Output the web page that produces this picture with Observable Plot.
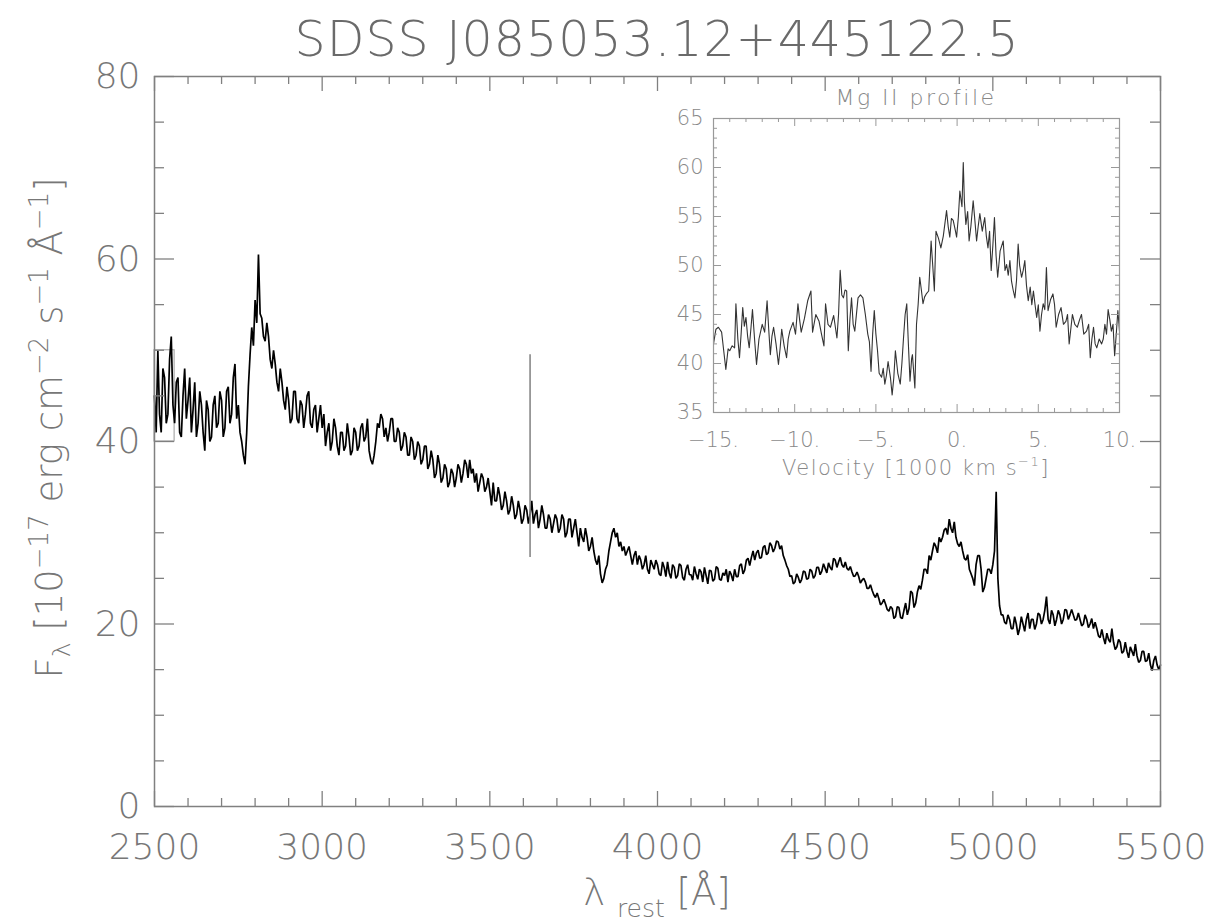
<!DOCTYPE html>
<html><head><meta charset="utf-8">
<script src="https://cdn.jsdelivr.net/npm/d3@7"></script>
<script src="https://cdn.jsdelivr.net/npm/@observablehq/plot@0.6"></script>
<style>
body{margin:0;background:#fff;}
#wrap{position:relative;width:1212px;height:924px;overflow:hidden;}
#main{position:absolute;left:0;top:0;}
#inset{position:absolute;left:600px;top:80px;}
</style></head>
<body><div id="wrap"><div id="main"></div><div id="inset"></div></div>
<script>
// ---------------- DATA ----------------
const titleText = "SDSS J085053.12+445122.5";
const insetTitle = "Mg II profile";
// main spectrum: rest wavelength grid 2500..5500 Å, step 5 Å (one row = 100 Å)
const lambdaStart = 2500, lambdaEnd = 5500, lambdaStep = 5;
const flux = [
 45,41,50,43,41,48,47,42,43,49,51.5,44,42,46.5,47,41,40.5,45,48,42.5,
 44.5,47,41,43.5,46.5,40.5,42,45.5,44,41,39,44.5,43.5,40,40.5,44,45,41.5,42,45.5,
 44.5,40.5,41.5,45.5,46,42,43,47,48.5,42.5,44,41,40,38.5,37.5,41,46,49.5,52.5,50.5,
 55.5,53,60.5,54,53.5,51.5,51,53,51.5,49,48,50,48.5,46.5,45.5,48,46.5,44.5,43.5,46,
 44.5,42,42.5,45.5,45.5,42.5,42,44.5,44,41.5,43,45,45.5,42,41.5,43.5,44,41,42.5,44,
 41.5,43,39.5,41,42,39,40,42.5,41.5,39.5,38.5,41,41,39,39.5,42,40.5,38.5,39,41.5,
 41,39,39.5,41.5,42,40,40.5,42.5,39,38,37.5,38.5,40,42,41.5,43,42.5,40.5,41.5,40,
 41,42.5,42.5,40,40,41.5,41,39,39.5,41,40.5,38.5,38.5,40.5,40,38,38.5,40,39.5,37.5,
 38,39.5,39.5,37,37.5,39,38,36,36.5,38.5,37.5,35.5,36,37.5,37,35,35.5,37,36.5,35,
 36,37.5,37,35.5,36.5,38,37.5,36,38,36.5,37,35.5,36.5,34.5,35.5,36.5,36,34.5,35,36,
 34.5,33,35.5,33.5,33.5,35,34,32.5,33,34.5,33.5,32,32.5,34,33,31.5,32,33.5,32.5,31,
 31.5,33,32.5,31,32,33.5,31,32,32.5,30.5,31.5,33,32,30.5,30.5,32,31.5,30,31,32,
 31.5,30,30.5,32,31.5,29.5,30,31.5,31.5,29.5,30.5,31.5,30,28.5,30.5,29.5,29,30.5,29.5,28,
 28.5,29.5,28,27,26.5,27.5,25.5,24.5,25,26,26.5,28,29,30,30.5,29.5,30,28.5,29,28,
 28.5,27.5,28,28.5,27.5,26.5,27.5,28,26.5,27.5,27,26,26.5,27.5,26,25.5,27,26.5,26,27,
 26.5,25.5,25.3,26.8,26.2,25.2,26.8,25.6,25,26.5,26.2,25,25.3,26.6,26.4,25.1,24.8,26,26.5,25.4,
 25.4,24.8,26.3,25.5,24.9,26,25.7,24.6,26.2,25.3,24.4,25.9,25.8,24.7,24.9,26.3,26.1,24.9,24.8,25.6,
 25.3,26,24.6,25.8,25.4,24.7,26,25.2,25.2,26.4,26.6,25.5,25.9,27,27.2,26.4,27.3,28,27,27.8,
 28.1,27.2,27.3,28.4,28.6,27.6,27.8,28.9,28.6,27.9,28.3,29.1,29,28.2,28.6,27.5,27,26.4,26,25.2,
 25.3,24.4,24.6,25.5,25.1,24.5,24.9,25.8,25.7,24.9,25,26,25.8,25,25.3,26.2,26.2,25.4,25.8,26.6,
 26.1,25.6,26.7,26.2,25.9,27.2,27,26.2,26.8,27.3,26.5,26.2,26.8,26.1,25.9,26.3,25.7,25.2,25.3,25.7,
 25.2,24.5,24.8,25,24.6,23.9,23.9,24.3,23.7,23.2,22.9,23.4,22.8,22.1,22.3,22.7,22.2,21.6,21.4,21.9,
 21.7,20.6,20.8,21.9,21.8,20.7,20.6,21.5,22.3,21,21.7,23.6,23.4,21.8,22.3,23.5,24.2,23.8,24.8,26,
 26,25.5,27.5,27,28,28.9,28.5,27.8,29.5,29,29.5,30.3,30.5,29.8,31.5,30.5,30,31.2,29.5,28.8,
 28.5,29,28,27.2,27,27.6,26,25.5,25,24.2,26.5,27.5,27.5,26,23.5,24,25,26,26,25.5,
 26.5,28,34.5,25,22,21,21,20.2,20,21,20.5,19.5,19.5,20.8,20,18.8,19.5,20.8,20,19.2,
 20.5,21.2,19.5,20.5,20.5,19.4,20,21.2,21,20,20.5,21.5,23,20.5,20,21.5,21,19.8,20.5,21.5,
 21,20,20.5,21.6,21.5,20.5,21,21.6,21,20.4,20.5,21.2,20.5,19.8,20,21,20.5,19.6,20,20.6,
 19.5,20.2,19.5,18.7,18.5,19.4,18.5,17.8,19,18.3,18,19.5,18,17.2,17.5,18.3,18,16.8,17,18,
 17,16.3,17.5,17,16.5,17.8,16.5,15.8,16,17,17,15.9,16,16.8,15.5,14.9,16,16.5,15.5,15,
 15.5
];
// gray vertical marker line and small gray box
const markerLambda = [3620], markerLo = [27.3], markerHi = [49.5];
const boxX1 = [2500], boxX2 = [2560], boxY1 = [40], boxY2 = [50];
// axis ticks (main)
const xMajor = [2500,3000,3500,4000,4500,5000,5500];
const xMinor = d3.range(2500, 5501, 100);
const yMajor = [0,20,40,60,80];
const yMinor = d3.range(0, 81, 5);
// inset Mg II profile
const velocity = [
 -15.0,-14.85,-14.7,-14.5,-14.35,-14.24,-14.1,-14.0,-13.85,-13.7,
 -13.62,-13.5,-13.4,-13.3,-13.2,-13.1,-13.0,-12.9,-12.8,-12.7,
 -12.6,-12.45,-12.35,-12.2,-12.0,-11.85,-11.7,-11.6,-11.5,-11.4,
 -11.3,-11.15,-11.0,-10.9,-10.8,-10.65,-10.5,-10.4,-10.3,-10.1,
 -9.95,-9.8,-9.7,-9.6,-9.4,-9.2,-9.0,-8.9,-8.7,-8.5,
 -8.35,-8.2,-8.1,-7.95,-7.8,-7.6,-7.4,-7.3,-7.2,-7.1,
 -7.0,-6.9,-6.8,-6.7,-6.6,-6.5,-6.4,-6.3,-6.1,-5.95,
 -5.8,-5.65,-5.5,-5.4,-5.3,-5.2,-5.1,-5.0,-4.9,-4.8,
 -4.65,-4.55,-4.45,-4.35,-4.25,-4.1,-4.0,-3.9,-3.8,-3.65,
 -3.5,-3.4,-3.3,-3.2,-3.1,-3.0,-2.9,-2.8,-2.75,-2.6,
 -2.5,-2.4,-2.3,-2.2,-2.1,-2.0,-1.9,-1.75,-1.6,-1.5,
 -1.4,-1.3,-1.15,-1.0,-0.85,-0.65,-0.55,-0.45,-0.35,-0.24,
 -0.1,-0.03,0.08,0.17,0.3,0.38,0.45,0.54,0.65,0.74,
 0.85,0.99,1.1,1.2,1.3,1.4,1.55,1.7,1.8,1.9,
 2.0,2.1,2.2,2.3,2.4,2.5,2.65,2.84,2.95,3.05,
 3.15,3.25,3.35,3.45,3.56,3.66,3.76,3.85,3.97,4.07,
 4.17,4.27,4.38,4.5,4.6,4.7,4.8,4.9,5.0,5.1,
 5.2,5.3,5.4,5.5,5.6,5.75,5.9,6.0,6.1,6.25,
 6.4,6.55,6.7,6.8,6.9,7.0,7.1,7.25,7.4,7.55,
 7.66,7.8,7.97,8.1,8.2,8.3,8.4,8.5,8.6,8.75,
 8.9,9.0,9.1,9.2,9.3,9.4,9.5,9.6,9.7,9.8,
 9.9,10.0
];
const profile = [
 42.0,43.5,43.7,43.2,41.0,39.4,41.5,41.3,41.8,41.6,
 46.1,42.5,40.6,43.0,45.7,43.8,44.7,42.8,41.6,43.5,
 45.5,42.0,39.9,42.5,44.0,43.2,46.4,43.5,40.9,42.8,
 43.7,42.0,39.9,41.5,43.5,41.8,40.6,42.5,43.3,44.2,
 43.0,46.1,44.5,43.2,44.6,46.4,47.4,43.2,45.0,44.3,
 43.0,41.8,46.1,44.0,43.7,44.9,42.6,45.0,49.5,47.0,
 46.7,47.5,47.4,41.3,44.5,46.7,44.0,43.3,46.7,47.0,
 46.7,45.0,43.0,42.2,39.2,43.0,45.4,43.0,41.3,39.0,
 38.6,39.5,37.9,38.8,40.2,38.5,36.8,38.5,41.3,39.0,
 37.9,40.0,42.6,45.0,46.1,42.0,38.2,40.5,40.9,37.5,
 44.0,46.0,48.8,47.5,46.1,46.8,47.1,47.4,52.5,50.0,
 47.4,53.5,52.8,51.8,53.0,55.6,54.0,52.9,54.8,54.6,
 53.5,52.9,55.0,57.6,56.0,60.5,56.5,54.2,55.5,52.5,
 54.0,56.6,54.5,52.5,54.0,55.3,53.5,54.9,53.0,51.8,
 53.5,49.5,52.0,54.9,51.0,48.8,51.5,52.5,49.5,50.1,
 49.0,50.5,48.4,47.5,46.7,48.5,52.2,50.0,48.8,49.5,
 50.5,48.0,46.4,47.8,46.0,47.4,46.0,44.7,46.0,43.3,
 45.0,46.1,45.5,49.8,45.4,46.5,47.1,46.0,43.7,45.0,
 45.7,44.0,44.3,45.0,42.0,43.5,45.0,44.0,43.7,44.5,
 45.0,43.0,43.3,44.0,40.6,42.5,43.7,42.0,41.6,42.5,
 42.0,42.5,44.0,43.0,45.5,44.5,43.3,44.0,40.8,43.0,
 45.4,43.3
];
const vMajor = [-15,-10,-5,0,5,10];
const vMinor = d3.range(-15, 11, 1);
const pMajor = [35,40,45,50,55,60,65];
const pMinor = d3.range(35, 66, 1);

// ---------------- STYLE ----------------
const FONT = "'DejaVu Sans', sans-serif";
const AXC = "#808080";
const TXC = "#777";

// ---------------- MAIN PLOT ----------------
const W = 1212, H = 924, mL = 154, mR = 52, mT = 76, mB = 118;
const pxPerX = (W - mL - mR) / (lambdaEnd - lambdaStart);
const pxPerY = (H - mT - mB) / 80;
const lambdas = d3.range(lambdaStart, lambdaEnd + 1, lambdaStep);
const spectrum = flux.map((f, i) => ({lambda: lambdas[i], flux: f}));
const markers = markerLambda.map((l, i) => ({l, lo: markerLo[i], hi: markerHi[i]}));
const boxes = boxX1.map((x, i) => ({x1: x, x2: boxX2[i], y1: boxY1[i], y2: boxY2[i]}));
const xLen = d => (xMajor.includes(d) ? 15 : 8) / pxPerY;
const yLen = d => (yMajor.includes(d) ? 20 : 10) / pxPerX;

const main = Plot.plot({
  width: W, height: H,
  marginLeft: mL, marginRight: mR, marginTop: mT, marginBottom: mB,
  x: {domain: [lambdaStart, lambdaEnd]},
  y: {domain: [0, 80]},
  style: {fontFamily: FONT, fontSize: "36px", fontWeight: 200, color: TXC, background: "#fff"},
  marks: [
    Plot.rect(boxes, {x1: "x1", x2: "x2", y1: "y1", y2: "y2", fill: "none", stroke: "#aaa", strokeWidth: 1.2}),
    Plot.line(spectrum, {x: "lambda", y: "flux", stroke: "#000", strokeWidth: 1.7, strokeLinejoin: "miter"}),
    Plot.ruleX(markers, {x: "l", y1: "lo", y2: "hi", stroke: "#888", strokeWidth: 1.6}),
    Plot.ruleX(xMinor, {x: d => d, y1: 0, y2: d => xLen(d), stroke: AXC, strokeWidth: 1.3}),
    Plot.ruleX(xMinor, {x: d => d, y1: 80, y2: d => 80 - xLen(d), stroke: AXC, strokeWidth: 1.3}),
    Plot.ruleY(yMinor, {y: d => d, x1: lambdaStart, x2: d => lambdaStart + yLen(d), stroke: AXC, strokeWidth: 1.3}),
    Plot.ruleY(yMinor, {y: d => d, x1: lambdaEnd, x2: d => lambdaEnd - yLen(d), stroke: AXC, strokeWidth: 1.3}),
    Plot.frame({stroke: AXC, strokeWidth: 1.5}),
    Plot.axisX({ticks: xMajor, tickSize: 0, tickPadding: 27, tickFormat: d => String(d), label: null, fill: TXC}),
    Plot.axisY({ticks: yMajor, tickSize: 0, tickPadding: 14, tickFormat: d => String(d), label: null, fill: TXC})
  ]
});
document.getElementById("main").appendChild(main);

const svg = d3.select(main);
svg.append("text").attr("x", (mL + W - mR) / 2).attr("y", 56)
  .attr("text-anchor", "middle").attr("font-family", FONT).attr("font-size", 49)
  .attr("font-weight", 200).attr("letter-spacing", 1).attr("fill", "#6a6a6a").text(titleText);

// y label
const yl = svg.append("text").attr("transform", "translate(62,428) rotate(-90)")
  .attr("text-anchor", "middle").attr("font-family", FONT).attr("font-size", 37)
  .attr("font-weight", 200).attr("fill", TXC);
yl.append("tspan").text("F");
yl.append("tspan").attr("font-size", 25).attr("dy", 8).text("λ");
yl.append("tspan").attr("dy", -8).text(" [10");
yl.append("tspan").attr("font-size", 26).attr("dy", -14).text("−17");
yl.append("tspan").attr("dy", 14).text(" erg cm");
yl.append("tspan").attr("font-size", 26).attr("dy", -14).text("−2");
yl.append("tspan").attr("dy", 14).text(" s");
yl.append("tspan").attr("font-size", 26).attr("dy", -14).text("−1");
yl.append("tspan").attr("dy", 14).text(" Å");
yl.append("tspan").attr("font-size", 26).attr("dy", -14).text("−1");
yl.append("tspan").attr("dy", 14).text("]");

// x label
const xl = svg.append("text").attr("x", (mL + W - mR) / 2).attr("y", 905)
  .attr("text-anchor", "middle").attr("font-family", FONT).attr("font-size", 37)
  .attr("font-weight", 200).attr("fill", TXC);
xl.append("tspan").text("λ ");
xl.append("tspan").attr("font-size", 25).attr("dy", 12).text("rest");
xl.append("tspan").attr("dy", -12).text(" [Å]");

// ---------------- INSET ----------------
const IW = 560, IH = 410, iL = 113, iR = 41, iT = 38, iB = 78;
const ipxX = (IW - iL - iR) / 25, ipxY = (IH - iT - iB) / 30;
const mg = velocity.map((v, i) => ({v, f: profile[i]}));
const vLen = d => (vMajor.includes(d) ? 8 : 4) / ipxY;
const pLen = d => (pMajor.includes(d) ? 8 : 4) / ipxX;
const IAX = "#999";
const inset = Plot.plot({
  width: IW, height: IH,
  marginLeft: iL, marginRight: iR, marginTop: iT, marginBottom: iB,
  x: {domain: [-15, 10]},
  y: {domain: [35, 65]},
  style: {fontFamily: FONT, fontSize: "21px", fontWeight: 200, color: "#888", background: "transparent"},
  marks: [
    Plot.line(mg, {x: "v", y: "f", stroke: "#333", strokeWidth: 1.1}),
    Plot.ruleX(vMinor, {x: d => d, y1: 35, y2: d => 35 + vLen(d), stroke: IAX}),
    Plot.ruleX(vMinor, {x: d => d, y1: 65, y2: d => 65 - vLen(d), stroke: IAX}),
    Plot.ruleY(pMinor, {y: d => d, x1: -15, x2: d => -15 + pLen(d), stroke: IAX}),
    Plot.ruleY(pMinor, {y: d => d, x1: 10, x2: d => 10 - pLen(d), stroke: IAX}),
    Plot.frame({stroke: IAX, strokeWidth: 1.2}),
    Plot.axisX({ticks: vMajor, tickSize: 0, tickPadding: 20, label: null, fill: "#888",
      tickFormat: d => (d < 0 ? "−" : "") + Math.abs(d) + "."}),
    Plot.axisY({ticks: pMajor, tickSize: 0, tickPadding: 10, label: null, fill: "#888", tickFormat: d => String(d)})
  ]
});
document.getElementById("inset").appendChild(inset);
const isvg = d3.select(inset);
isvg.append("text").attr("x", iL + (IW - iL - iR) / 2).attr("y", 25)
  .attr("text-anchor", "middle").attr("font-family", FONT).attr("font-size", 22)
  .attr("font-weight", 200).attr("letter-spacing", 2.5).attr("fill", "#888").text(insetTitle);
const vl = isvg.append("text").attr("x", iL + (IW - iL - iR) / 2).attr("y", 395)
  .attr("text-anchor", "middle").attr("font-family", FONT).attr("font-size", 21)
  .attr("font-weight", 200).attr("letter-spacing", 1.5).attr("fill", "#888");
vl.append("tspan").text("Velocity [1000 km s");
vl.append("tspan").attr("font-size", 13).attr("dy", -9).text("−1");
vl.append("tspan").attr("dy", 9).text("]");
</script>
</body></html>
